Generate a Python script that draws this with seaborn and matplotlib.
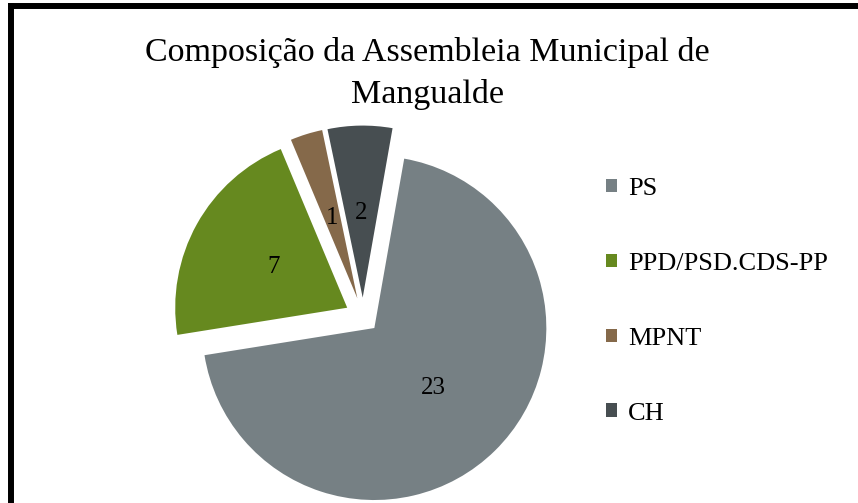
import matplotlib
matplotlib.use("Agg")
import matplotlib.pyplot as plt
import seaborn as sns
import numpy as np
from matplotlib.patches import Patch
from matplotlib.lines import Line2D

# Data
parties = ["PS", "PPD/PSD.CDS-PP", "MPNT", "CH"]
seats = [23, 7, 1, 2]
colors = ["#768084", "#66891f", "#85694a", "#474e51"]
title = "Composição da Assembleia Municipal de\nMangualde"

sns.set_theme(style="white")
plt.rcParams["font.family"] = ["Liberation Serif", "DejaVu Serif"]
plt.rcParams["text.color"] = "black"

W, H = 858, 503
fig = plt.figure(figsize=(W / 100, H / 100), dpi=100)
fig.patch.set_facecolor("white")

# Pie geometry (pixels, y measured from top)
cx, cy, R = 363, 316.5, 172
ax = fig.add_axes([0, 0, 1, 1])

palette = sns.color_palette(colors)
explode = [0.094, 0.105, 0.11, 0.11]
total = sum(seats)
wedges, _, autotexts = ax.pie(
    seats, colors=palette, startangle=80, counterclock=False,
    explode=explode, radius=1.0, pctdistance=0.49,
    autopct=lambda p: f"{round(p * total / 100):d}",
    wedgeprops=dict(linewidth=0),
    textprops=dict(fontsize=18, color="black"))
ax.set_xlim(-cx / R, (W - cx) / R)
ax.set_ylim(-(H - cy) / R, cy / R)
ax.set_aspect("equal")
ax.axis("off")

# Title
fig.text(427.5 / W, 1 - 73.5 / H, title, ha="center", va="center",
         fontsize=24.5, linespacing=1.5, color="black")

# Legend
handles = [Patch(facecolor=c, edgecolor="none") for c in palette]
leg = fig.legend(handles, parties, loc="upper left",
                 bbox_to_anchor=(593 / W, 1 - 165 / H), frameon=False,
                 fontsize=19, handlelength=0.4, handleheight=0.4,
                 handletextpad=0.42, labelspacing=2.0, borderpad=0,
                 labelcolor="black")
leg.set_zorder(10)

# Chart frame (left & top edges visible)
fig.add_artist(Line2D([11 / W, 11 / W], [0, 1 - 6 / H], color="black",
                      linewidth=4.3, transform=fig.transFigure,
                      solid_capstyle="projecting"))
fig.add_artist(Line2D([11 / W, 1], [1 - 6 / H, 1 - 6 / H], color="black",
                      linewidth=4.3, transform=fig.transFigure,
                      solid_capstyle="projecting"))

fig.savefig("out.png", dpi=100)
